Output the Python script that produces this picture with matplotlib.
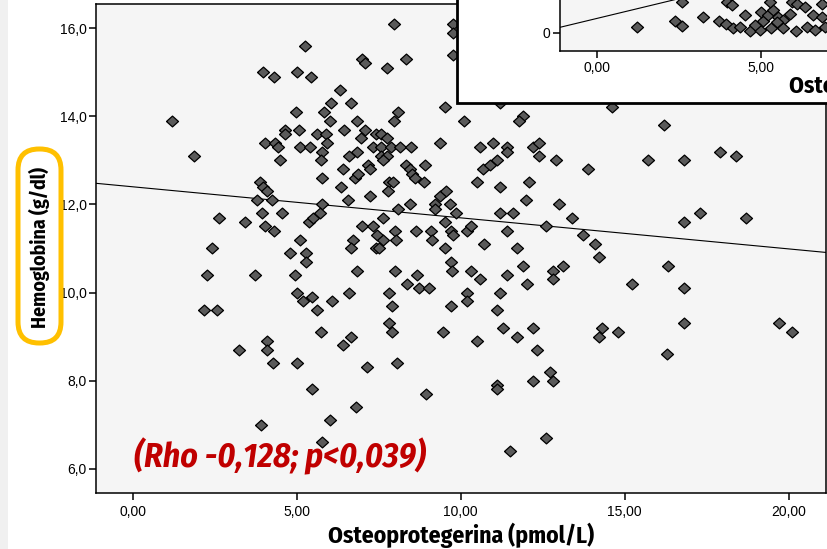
import matplotlib
matplotlib.use("Agg")
import matplotlib.pyplot as plt
from matplotlib.patches import FancyBboxPatch, Rectangle
from matplotlib.transforms import Affine2D

plt.rcParams['font.family'] = ['Liberation Sans', 'DejaVu Sans']
NARROW = ['Fira Sans Condensed', 'DejaVu Sans']

# Osteoprotegerina (pmol/L) vs Hemoglobina (g/dl)
osteo = [
    5.26, 3.96, 4.30, 5.01, 5.44, 6.32, 6.05, 4.99, 5.84, 1.20, 6.02, 4.65, 4.65, 5.08, 5.62, 5.89, 6.43,
    4.02, 4.34, 4.44, 5.10, 5.41, 5.93, 5.77, 1.88, 4.49, 5.75, 6.40, 5.78, 6.34, 3.87, 3.96, 4.10, 3.80,
    4.24, 5.77, 2.62, 3.42, 3.95, 4.54, 4.04, 4.30, 5.38, 5.51, 5.72, 5.10, 2.41, 4.80, 5.28,
    7.95, 9.77, 9.77, 9.77, 6.99, 7.09, 8.32, 7.76, 6.66, 9.51, 8.10, 7.95, 10.10, 11.20, 11.89, 11.79,
    6.85, 7.07, 7.41, 7.58, 7.75, 6.97, 7.34, 7.58, 7.88, 8.16, 8.49, 9.38, 10.59, 10.99, 11.40, 11.40,
    12.20, 12.40, 12.40, 12.91, 6.83, 6.60, 7.58, 7.75, 7.62, 7.17, 7.23, 6.79, 6.86, 8.33, 8.45, 8.52,
    8.61, 8.90, 8.88, 7.81, 7.93, 7.77, 10.69, 10.89, 11.12, 10.49, 11.20, 12.09, 13.88, 6.57, 7.23, 8.09,
    8.45, 9.37, 9.55, 9.23, 9.23, 9.68, 9.84, 7.64, 9.51, 11.99, 11.20, 11.60, 13.00, 13.39, 12.60, 13.72,
    6.99, 7.34, 7.44, 8.01, 8.03, 7.64, 6.73, 8.64, 9.09, 9.13, 9.70, 9.77, 10.18, 10.30, 11.40, 10.71,
    11.71, 6.65, 7.42, 7.52, 9.51,
    14.60, 16.21, 15.71, 16.81, 17.91, 18.40, 16.81, 17.30, 18.71, 14.09, 14.22, 16.31, 15.21, 16.81,
    9.70, 9.73, 10.30, 10.60, 11.40, 11.91, 12.01, 12.80, 13.11, 12.80, 10.20, 10.20, 11.20, 9.71, 11.10,
    9.47, 10.51, 11.30, 11.71, 12.20, 12.32, 14.31, 14.21, 14.80, 16.81, 16.30, 19.70, 20.11, 11.10, 11.10,
    12.21, 12.72, 12.82, 12.60, 11.50,
    6.85, 7.99, 8.66, 8.37, 8.72, 9.02, 6.60, 7.80, 7.91, 7.82, 7.91, 6.65, 6.42, 7.13, 8.07, 8.94, 6.81,
    2.27, 3.72, 4.96, 5.02, 5.20, 5.47, 6.08, 5.61, 2.16, 2.56, 5.73, 3.23, 4.09, 4.09, 4.27, 5.02, 5.47,
    6.02, 3.92, 5.77, 5.28,
]
hemo = [
    15.6, 15.0, 14.9, 15.0, 14.9, 14.6, 14.3, 14.1, 14.1, 13.9, 13.9, 13.7, 13.6, 13.7, 13.6, 13.6, 13.7,
    13.4, 13.4, 13.3, 13.3, 13.3, 13.4, 13.2, 13.1, 13.0, 13.0, 12.8, 12.6, 12.4, 12.5, 12.4, 12.3, 12.1,
    12.1, 12.0, 11.7, 11.6, 11.8, 11.8, 11.5, 11.4, 11.6, 11.7, 11.8, 11.2, 11.0, 10.9, 10.9,
    16.1, 16.1, 15.9, 15.4, 15.3, 15.2, 15.3, 15.1, 14.3, 14.2, 14.1, 13.9, 13.9, 14.3, 14.0, 13.9,
    13.9, 13.7, 13.6, 13.6, 13.5, 13.5, 13.3, 13.3, 13.3, 13.3, 13.3, 13.4, 13.3, 13.4, 13.3, 13.2,
    13.3, 13.4, 13.1, 13.0, 13.2, 13.1, 13.1, 13.1, 13.0, 12.9, 12.8, 12.6, 12.7, 12.9, 12.8, 12.7,
    12.6, 12.9, 12.5, 12.5, 12.5, 12.3, 12.8, 12.9, 13.0, 12.5, 12.4, 12.5, 12.8, 12.1, 12.2, 11.9,
    12.0, 12.2, 12.3, 12.0, 11.9, 12.0, 11.8, 11.7, 11.6, 12.1, 11.8, 11.8, 12.0, 11.7, 11.5, 11.3,
    11.5, 11.5, 11.3, 11.4, 11.2, 11.2, 11.2, 11.4, 11.4, 11.2, 11.4, 11.3, 11.4, 11.5, 11.4, 11.1,
    11.0, 11.0, 11.0, 11.0, 11.0,
    14.2, 13.8, 13.0, 13.0, 13.2, 13.1, 11.6, 11.8, 11.7, 11.1, 10.8, 10.6, 10.2, 10.1,
    10.7, 10.5, 10.5, 10.3, 10.4, 10.6, 10.2, 10.5, 10.6, 10.3, 10.0, 9.8, 10.0, 9.7, 9.6,
    9.1, 8.9, 9.2, 9.0, 9.2, 8.7, 9.2, 9.0, 9.1, 9.3, 8.6, 9.3, 9.1, 7.9, 7.8,
    8.0, 8.2, 8.0, 6.7, 6.4,
    10.5, 10.5, 10.4, 10.2, 10.1, 10.1, 10.0, 10.0, 9.7, 9.3, 9.1, 9.0, 8.8, 8.3, 8.4, 7.7, 7.4,
    10.4, 10.4, 10.4, 10.0, 9.8, 9.9, 9.8, 9.6, 9.6, 9.6, 9.1, 8.7, 8.9, 8.7, 8.4, 8.4, 7.8,
    7.1, 7.0, 6.6, 10.7,
]
fit_intercept = 12.40
fit_slope = -0.0705
rho_text = "(Rho -0,128; p<0,039)"

# second scatter panel sitting on top (only partly visible)
inset_x = [1.21, 2.38, 2.58, 2.60, 3.24, 3.73, 3.93, 4.14, 3.95, 4.11, 4.51, 4.36, 4.66, 4.97, 4.82,
           5.05, 4.99, 5.22, 5.38, 5.53, 5.27, 5.32, 5.66, 5.68, 5.88, 5.94, 6.09, 6.07, 6.34, 6.39,
           6.65, 6.59, 6.85, 6.85, 6.95, 5.48]
inset_y = [0.54, 1.20, 0.67, 3.10, 1.54, 1.20, 0.87, 0.44, 3.10, 2.77, 1.77, 0.60, 0.20, 0.27, 0.77,
           1.20, 2.10, 1.77, 2.27, 1.60, 3.10, 0.44, 1.27, 0.44, 1.87, 3.10, 2.87, 0.20, 2.60, 0.54,
           0.27, 1.77, 1.54, 2.87, 0.54, 1.10]
inset_intercept = 1.43
inset_slope = 0.79

x_ticks = [0, 5, 10, 15, 20]
y_ticks = [6, 8, 10, 12, 14, 16]
x_ticklabels = ['0,00', '5,00', '10,00', '15,00', '20,00']
y_ticklabels = ['6,0', '8,0', '10,0', '12,0', '14,0', '16,0']

W, H = 827, 549
fig = plt.figure(figsize=(W / 100, H / 100), dpi=100)
fig.patch.set_facecolor('white')
# pixel coordinates, origin top-left
px = Affine2D().scale(1 / W, -1 / H).translate(0, 1) + fig.transFigure

diamond = [(-1, 0), (0, 0.9), (1, 0), (0, -0.9), (-1, 0)]
POINT_FC = '#5a5a5a'
PANEL_BG = '#f5f5f5'

fig.add_artist(Rectangle((0, 0), 8, H, transform=px, fc='#f0f0f0', ec='none', zorder=-1))

# main panel
ax = fig.add_axes([96 / W, 1 - 493 / H, 729.5 / W, 489.5 / H], zorder=0)
ax.set_facecolor(PANEL_BG)
ax.scatter(osteo, hemo, marker=diamond, s=75, c=POINT_FC, edgecolors='black',
           linewidths=0.9, zorder=3)
ax.axline((0, fit_intercept), slope=fit_slope, color='black', lw=0.8, zorder=2)
ax.set_xlim(-1.12, 21.12)
ax.set_ylim(5.45, 16.56)
ax.set_xticks(x_ticks)
ax.set_xticklabels(x_ticklabels)
ax.set_yticks(y_ticks)
ax.set_yticklabels(y_ticklabels)
ax.tick_params(axis='both', direction='out', length=5, width=1.1, labelsize=10, colors='black')
ax.tick_params(axis='x', pad=4)
ax.tick_params(axis='y', pad=1.5)
for sp in ax.spines.values():
    sp.set_linewidth(1.1)

fig.text(460.75, 535, 'Osteoprotegerina (pmol/L)', transform=px, ha='center', va='center',
         fontsize=17, fontweight='bold', family=NARROW)
fig.text(134, 467, rho_text, transform=px, ha='left', va='baseline', fontsize=24.4,
         fontweight='bold', style='italic', color='#c00000', family=NARROW)

# overlapping panel in the top-right corner
fig.add_artist(Rectangle((457, -30), 500, 133.3, transform=px, fc='white', ec='black',
                         lw=2.0, zorder=1.5))
ins = fig.add_axes([560 / W, 1 - 51 / H, 730 / W, 491 / H], zorder=2)
ins.set_facecolor(PANEL_BG)
ins.scatter(inset_x, inset_y, marker=diamond, s=75, c=POINT_FC, edgecolors='black',
            linewidths=0.9, zorder=3)
ins.axline((0, inset_intercept), slope=inset_slope, color='black', lw=0.8, zorder=2)
ins.set_xlim(-1.128, 21.13)
ins.set_ylim(-1.83, 47.27)
ins.set_xticks(x_ticks[:2])
ins.set_xticklabels(x_ticklabels[:2])
ins.set_yticks([0])
ins.set_yticklabels(['0'])
ins.tick_params(axis='both', direction='out', length=5, width=1.1, labelsize=10, colors='black')
ins.tick_params(axis='x', pad=2)
ins.tick_params(axis='y', pad=2)
for sp in ins.spines.values():
    sp.set_linewidth(1.1)
fig.text(789, 85, 'Osteoprotegerina (pmol/L)', transform=px, ha='left', va='center',
         fontsize=17, fontweight='bold', family=NARROW, zorder=3)

# highlighted y label
fig.add_artist(FancyBboxPatch((18, 149), 43, 194, boxstyle='round,pad=0,rounding_size=21',
                              transform=px, fc='white', ec='#ffc000', lw=3.6, zorder=4))
fig.text(39, 247, 'Hemoglobina (g/dl)', transform=px, rotation=90, ha='center', va='center',
         fontsize=14.3, fontweight='bold', family=NARROW, zorder=5)

fig.savefig('out.png', dpi=100)
